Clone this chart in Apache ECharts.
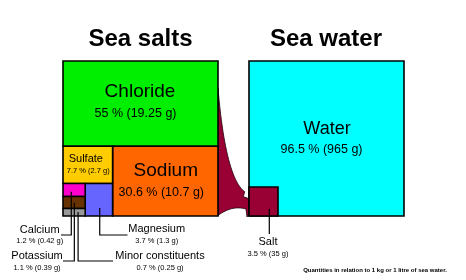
<!DOCTYPE html>
<html><head><meta charset="utf-8">
<script src="https://cdn.jsdelivr.net/npm/echarts@6/dist/echarts.min.js"></script>
<style>html,body{margin:0;padding:0;background:#fff}#c{width:466px;height:280px}</style>
</head><body><div id="c"></div>
<script>
// ---------- DATA ----------
var saltNames = ['Chloride', 'Sodium', 'Sulfate', 'Magnesium', 'Calcium', 'Potassium', 'Minor constituents'];
var saltPercent = [55, 30.6, 7.7, 3.7, 1.2, 1.1, 0.7];
var saltGrams = [19.25, 10.7, 2.7, 1.3, 0.42, 0.39, 0.25];
var waterNames = ['Water', 'Salt'];
var waterPercent = [96.5, 3.5];
var waterGrams = [965, 35];
var titles = ['Sea salts', 'Sea water'];
var footnote = 'Quantities in relation to 1 kg or 1 litre of sea water.';

// ---------- STYLE ----------
var FONT = '"Liberation Sans", Arial, sans-serif';
var colors = {
  'Chloride': '#00ee00', 'Sodium': '#ff6600', 'Sulfate': '#ffcc00', 'Magnesium': '#6666ff',
  'Calcium': '#ff00cc', 'Potassium': '#663300', 'Minor constituents': '#999999',
  'Water': '#00ffff', 'Salt': '#990033'
};
var GAP = 0.2; // gap between the two squares, in square-side units
var inner = {
  'Chloride': { n: [-0.5, -11.5, 19], v: [-5, 9.5, 12.5] },
  'Sodium':   { n: [0.5, -10, 19],    v: [-4, 11, 12.5] },
  'Sulfate':  { n: [-2, -6, 11],      v: [0.5, 6.5, 7.5] },
  'Water':    { n: [0.5, -9.5, 18],   v: [-5, 11.5, 12.5] }
};
// callouts: text centre (data units), anchor inside box (fractions), elbow level, end x
var callouts = {
  'Calcium':            { t: [-0.1503, 1.0871], ax: 0.373, ay: 0.63, ey: 1.1226, ex: -0.0129 },
  'Potassium':          { t: [-0.1677, 1.2581], ax: 0.51,  ay: 0.52, ey: 1.2903, ex: 0 },
  'Minor constituents': { t: [0.6258, 1.2581],  ax: 0.68,  ay: 0.47, ey: 1.2903, ex: 0.3226 },
  'Magnesium':          { t: [0.6045, 1.0839],  ax: 0.53,  ay: 0.75, ey: 1.1226, ex: 0.4161 },
  'Salt':               { t: [1.3226, 1.1677],  ax: 0.7,   ay: 0.76, ey: 1.1161, ex: null }
};

// ---------- LAYOUT (from percentages) ----------
function fmt(p, g) { return p + ' % (' + g + ' g)'; }
var f = saltPercent.map(function (p) { return p / 100; });
var boxes = [];
var yCl = f[0];
boxes.push({ name: saltNames[0], r: [0, 0, 1, yCl], label: fmt(saltPercent[0], saltGrams[0]) });
var wNa = f[1] / (1 - yCl);
boxes.push({ name: saltNames[1], r: [1 - wNa, yCl, 1, 1], label: fmt(saltPercent[1], saltGrams[1]) });
var wL = 1 - wNa;
var hSu = f[2] / wL;
boxes.push({ name: saltNames[2], r: [0, yCl, wL, yCl + hSu], label: fmt(saltPercent[2], saltGrams[2]) });
var yB = yCl + hSu, hB = 1 - yB;
var wMg = f[3] / hB;
boxes.push({ name: saltNames[3], r: [wL - wMg, yB, wL, 1], label: fmt(saltPercent[3], saltGrams[3]) });
var wS = wL - wMg, yc = yB;
for (var k = 4; k < 7; k++) {
  var h = f[k] / wS;
  boxes.push({ name: saltNames[k], r: [0, yc, wS, k === 6 ? 1 : yc + h], label: fmt(saltPercent[k], saltGrams[k]) });
  yc += h;
}
boxes.push({ name: waterNames[0], r: [GAP + 1, 0, GAP + 2, 1], label: fmt(waterPercent[0], waterGrams[0]) });
var side = Math.sqrt(waterPercent[1] / 100);
boxes.push({ name: waterNames[1], r: [GAP + 1, 1 - side, GAP + 1 + side, 1], label: fmt(waterPercent[1], waterGrams[1]) });
var boxByName = {};
boxes.forEach(function (b) { boxByName[b.name] = b; });

// arrow outline (decorative connector, square-side units)
var arrow = {
  p0: [1.0, 0.1742], c1: [1.0452, 0.7161], p2: [1.1581, 0.8323],
  jag: [[1.1723, 0.8432], [1.1632, 0.8755], [1.1903, 0.8839], [1.2, 0.9032], [1.2, 0.9806], [1.1871, 1.0065], [1.1806, 0.9548]],
  c2: [1.0903, 0.929], p3: [1.0, 0.9968]
};
function quad(a, c, b, n) {
  var out = [];
  for (var i = 0; i <= n; i++) {
    var t = i / n, u = 1 - t;
    out.push([u * u * a[0] + 2 * u * t * c[0] + t * t * b[0], u * u * a[1] + 2 * u * t * c[1] + t * t * b[1]]);
  }
  return out;
}

function txt(x, y, s, size, align, weight) {
  return { type: 'text', style: { x: x, y: y, text: s, fill: '#000', font: (weight || 'normal') + ' ' + size + 'px ' + FONT, textAlign: align || 'center', textVerticalAlign: 'middle' } };
}

var chart = echarts.init(document.getElementById('c'));
chart.setOption({
  animation: false,
  grid: { left: 63, top: 61, width: 341, height: 155 },
  xAxis: { type: 'value', min: 0, max: 2.2, show: false },
  yAxis: { type: 'value', min: 0, max: 1, inverse: true, show: false },
  graphic: [
    txt(140.5, 39, titles[0], 24, 'center', 'bold'),
    txt(326, 39, titles[1], 24, 'center', 'bold'),
    txt(375, 270, footnote, 6, 'center', 'bold')
  ],
  series: [
    { // arrow
      type: 'custom', silent: true, z: 1,
      data: [[1, 0.5]],
      renderItem: function (params, api) {
        var pts = quad(arrow.p0, arrow.c1, arrow.p2, 24).concat(arrow.jag).concat(quad(arrow.jag[arrow.jag.length - 1], arrow.c2, arrow.p3, 16).slice(1));
        return { type: 'polygon', shape: { points: pts.map(function (p) { return api.coord(p); }) }, style: { fill: colors['Salt'], stroke: '#1a0008', lineWidth: 0.8 } };
      }
    },
    { // boxes
      type: 'custom', silent: true, z: 2,
      data: boxes.map(function (b) { return b.r; }),
      renderItem: function (params, api) {
        var b = boxes[params.dataIndex];
        var p0 = api.coord([api.value(0), api.value(1)]);
        var p1 = api.coord([api.value(2), api.value(3)]);
        var x = Math.min(p0[0], p1[0]), y = Math.min(p0[1], p1[1]);
        var w = Math.abs(p1[0] - p0[0]), h = Math.abs(p1[1] - p0[1]);
        var ch = [{ type: 'rect', shape: { x: x, y: y, width: w, height: h }, style: { fill: colors[b.name], stroke: '#000', lineWidth: 1.6 } }];
        var L = inner[b.name];
        if (L) {
          var cx = x + w / 2, cy = y + h / 2;
          ch.push(txt(cx + L.n[0], cy + L.n[1], b.name, L.n[2]));
          ch.push(txt(cx + L.v[0], cy + L.v[1], b.label, L.v[2]));
        }
        return { type: 'group', children: ch };
      }
    },
    { // callouts
      type: 'custom', silent: true, z: 3,
      data: Object.keys(callouts).map(function (n) { return callouts[n].t; }),
      renderItem: function (params, api) {
        var name = Object.keys(callouts)[params.dataIndex];
        var c = callouts[name], b = boxByName[name];
        var lx = b.r[0] + c.ax * (b.r[2] - b.r[0]);
        var ly = b.r[1] + c.ay * (b.r[3] - b.r[1]);
        var pts = [api.coord([lx, ly]), api.coord([lx, c.ey])];
        if (c.ex !== null) pts.push(api.coord([c.ex, c.ey]));
        var tp = api.coord([api.value(0), api.value(1)]);
        return { type: 'group', children: [
          { type: 'polyline', shape: { points: pts }, style: { stroke: '#000', lineWidth: 1.2, fill: null } },
          txt(tp[0], tp[1], name, 11),
          txt(tp[0], tp[1] + 11.7, b.label, 7.5)
        ] };
      }
    }
  ]
});
</script>
</body></html>
